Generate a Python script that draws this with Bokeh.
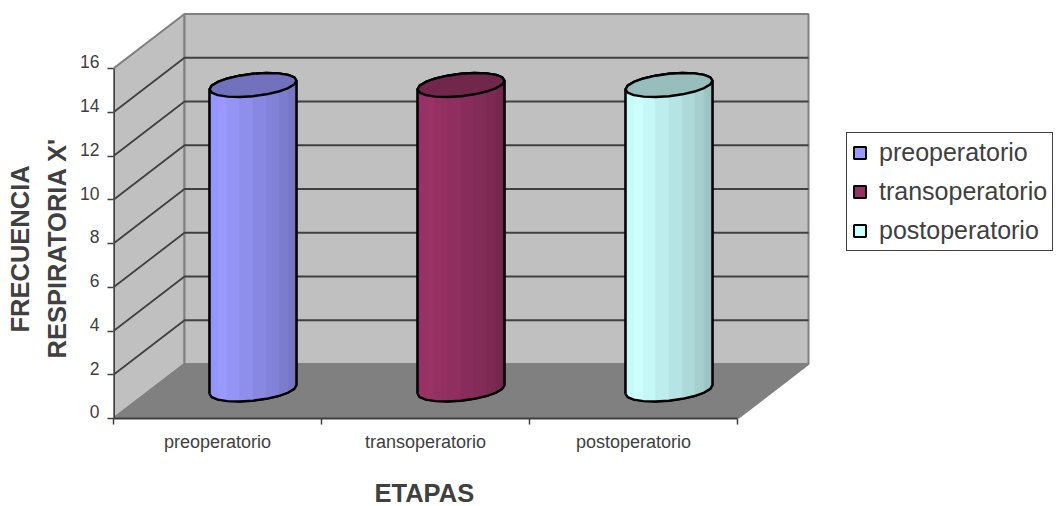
import math

from bokeh.embed import file_html
from bokeh.models import FixedTicker, Legend, LegendItem, LinearAxis, Range1d, Title
from bokeh.plotting import figure
from bokeh.resources import INLINE

# Chart data
stages = ["preoperatorio", "transoperatorio", "postoperatorio"]
respiratory_rate = [14, 14, 14]
value_ticks = [0, 2, 4, 6, 8, 10, 12, 14, 16]

# Series colours
series_colors = [(153, 153, 255), (153, 51, 102), (204, 255, 255)]

# Layout in pixels: one category width, one value unit, and the depth offset
CAT_PX, UNIT_PX = 208.0, 21.875
DEPTH_PX_X, DEPTH_PX_Y = 71.0, 54.5
LEFT, BOTTOM, TOP = 113, 88, 5
WIDTH, HEIGHT = 1058, 506

AXIS_GREY = "#404040"
WALL = "#c0c0c0"
FLOOR = "#808080"
EDGE = "#808080"
TEXT = "#404040"
FONT = "Liberation Sans"

# Value labels sit a little above their ticks
LABEL_LIFT = 0.3

# Cylinder shape, in plot units
RADIUS_X, RADIUS_D = 0.195, 0.22
SKEW = math.atan2(RADIUS_D * DEPTH_PX_X, RADIUS_X * CAT_PX)
FACETS = 20
FRONT_SHADES = [0.94, 0.98, 1.0, 0.97, 0.93, 0.89, 0.85, 0.81, 0.77, 0.73]
TOP_SHADE = 0.74
BASE_LIFT = 0.08


def project(x, y, d):
    """Oblique projection of (category, value, depth) onto the plot plane."""
    return x + d * DEPTH_PX_X / CAT_PX, y + d * DEPTH_PX_Y / UNIT_PX


def shade(rgb, factor):
    return "#%02x%02x%02x" % tuple(int(round(c * factor)) for c in rgb)


def ring(cx, value, start, count):
    """Vertices of the faceted circle at a given height, walking round from start."""
    xs, ys = [], []
    for k in range(count + 1):
        t = SKEW + math.pi + start + k * 2 * math.pi / FACETS
        px, py = project(cx + RADIUS_X * math.cos(t), value, 0.5 + RADIUS_D * math.sin(t))
        xs.append(px)
        ys.append(py)
    return xs, ys


p = figure(
    width=WIDTH,
    height=HEIGHT,
    output_backend="svg",
    toolbar_location=None,
    x_range=Range1d(0, (WIDTH - LEFT) / CAT_PX),
    y_range=Range1d(0, (HEIGHT - BOTTOM - TOP) / UNIT_PX),
    x_axis_type=None,
    y_axis_type=None,
    min_border_left=LEFT,
    min_border_right=0,
    min_border_top=TOP,
    min_border_bottom=BOTTOM,
    outline_line_color=None,
    background_fill_color="white",
)
p.grid.visible = False

n_cat = len(stages)
top_value = value_ticks[-1]

# Left wall, back wall and floor
corners = [(0, 0, 0), (0, top_value, 0), (0, top_value, 1), (0, 0, 1)]
wall_x, wall_y = zip(*[project(*c) for c in corners])
p.patch(list(wall_x), list(wall_y), fill_color=WALL, line_color=EDGE, line_width=2)

corners = [(0, 0, 1), (0, top_value, 1), (n_cat, top_value, 1), (n_cat, 0, 1)]
back_x, back_y = zip(*[project(*c) for c in corners])
p.patch(list(back_x), list(back_y), fill_color=WALL, line_color=EDGE, line_width=2)

corners = [(0, 0, 0), (0, 0, 1), (n_cat, 0, 1), (n_cat, 0, 0)]
floor_x, floor_y = zip(*[project(*c) for c in corners])
p.patch(list(floor_x), list(floor_y), fill_color=FLOOR, line_color=EDGE, line_width=2)

# Gridlines run along the left wall and across the back wall
for v in value_ticks[1:-1]:
    pts = [project(0, v, 0), project(0, v, 1), project(n_cat, v, 1)]
    p.line([q[0] for q in pts], [q[1] for q in pts], line_color=AXIS_GREY, line_width=1.8)

# Front-left edge, which carries the value axis
p.line([0, 0], [0, top_value], line_color=AXIS_GREY, line_width=3)

# Cylinders
legend_items = []
for i, (name, val, rgb) in enumerate(zip(stages, respiratory_rate, series_colors)):
    cx = i + 0.5
    # Silhouette: front of the base ring, then the far side of the top ring
    bx, by = ring(cx, BASE_LIFT, 0, FACETS // 2)
    tx, ty = ring(cx, val, math.pi, FACETS // 2)
    fx_top, fy_top = ring(cx, val, 0, FACETS // 2)
    sil_x, sil_y = bx + tx, by + ty
    body = p.patch(sil_x, sil_y, fill_color=shade(rgb, 1.0), line_color="black", line_width=2)

    # Vertical facets across the visible side
    for k in range(FACETS // 2):
        fx = [bx[k], bx[k + 1], fx_top[k + 1], fx_top[k]]
        fy = [by[k], by[k + 1], fy_top[k + 1], fy_top[k]]
        col = shade(rgb, FRONT_SHADES[k])
        p.patch(fx, fy, fill_color=col, line_color=col, line_width=0.5)

    p.line(sil_x + sil_x[:1], sil_y + sil_y[:1], line_color="black", line_width=2.4)

    cap_x, cap_y = ring(cx, val, 0, FACETS)
    p.patch(cap_x, cap_y, fill_color=shade(rgb, TOP_SHADE), line_color="black", line_width=2.4)
    legend_items.append(LegendItem(label=name, renderers=[body]))

# Value axis: labels on lifted positions, tick marks on the values themselves
lifted = [v + LABEL_LIFT for v in value_ticks]
y_axis = LinearAxis(
    ticker=FixedTicker(ticks=lifted, minor_ticks=value_ticks),
    bounds=(0, top_value + 2 * LABEL_LIFT),
    axis_line_color=None,
    major_tick_line_color=None,
    minor_tick_line_color=AXIS_GREY,
    minor_tick_line_width=1.5,
    minor_tick_in=0,
    minor_tick_out=6,
    major_tick_out=6,
    major_tick_in=0,
    major_label_overrides={a: str(v) for a, v in zip(lifted, value_ticks)},
    major_label_text_font=FONT,
    major_label_text_font_size="17.5px",
    major_label_text_color=TEXT,
    major_label_standoff=8,
)
p.add_layout(y_axis, "left")

# Category axis: ticks between the stages, labels under their centres
label_positions = [i + 0.5 for i in range(n_cat)]
x_axis = LinearAxis(
    ticker=FixedTicker(ticks=label_positions, minor_ticks=list(range(n_cat + 1))),
    bounds=(0, n_cat),
    axis_line_color=AXIS_GREY,
    axis_line_width=2,
    major_tick_line_color=None,
    minor_tick_line_color=AXIS_GREY,
    minor_tick_line_width=1.5,
    minor_tick_in=0,
    minor_tick_out=6,
    major_label_overrides=dict(zip(label_positions, stages)),
    major_label_text_font=FONT,
    major_label_text_font_size="18px",
    major_label_text_color=TEXT,
    major_label_standoff=7,
)
p.add_layout(x_axis, "below")

# Unlabelled axis that only opens a gap between the category labels and the title
spacer = LinearAxis(
    ticker=FixedTicker(ticks=[label_positions[1]]),
    major_label_overrides={label_positions[1]: ""},
    axis_line_color=None,
    major_tick_line_color=None,
    minor_tick_line_color=None,
    major_tick_in=0,
    major_tick_out=22,
    major_label_standoff=0,
    major_label_text_font_size="1px",
)
p.add_layout(spacer, "below")

# Axis titles, stacked outward from their axes
title_style = dict(
    text_font=FONT,
    text_font_size="25.5px",
    text_font_style="bold",
    text_color=TEXT,
)
p.add_layout(Title(text="ETAPAS", align="left", offset=261, standoff=0, **title_style), "below")
p.add_layout(Title(text="RESPIRATORIA X'", align="left", offset=60, standoff=13, **title_style), "left")
p.add_layout(Title(text="FRECUENCIA", align="left", offset=86, standoff=2, **title_style), "left")

legend = Legend(
    items=legend_items,
    location=(846 - LEFT, HEIGHT - BOTTOM - 251),
    orientation="vertical",
    margin=0,
    padding=5,
    spacing=10,
    glyph_width=15,
    glyph_height=15,
    label_standoff=12,
    label_height=26,
    label_text_font=FONT,
    label_text_font_size="25px",
    label_text_color=TEXT,
    border_line_color=AXIS_GREY,
    border_line_width=1.5,
    border_line_alpha=1,
    background_fill_color="white",
    background_fill_alpha=1,
)
p.add_layout(legend, "center")

open("out.html", "w").write(file_html(p, INLINE))
